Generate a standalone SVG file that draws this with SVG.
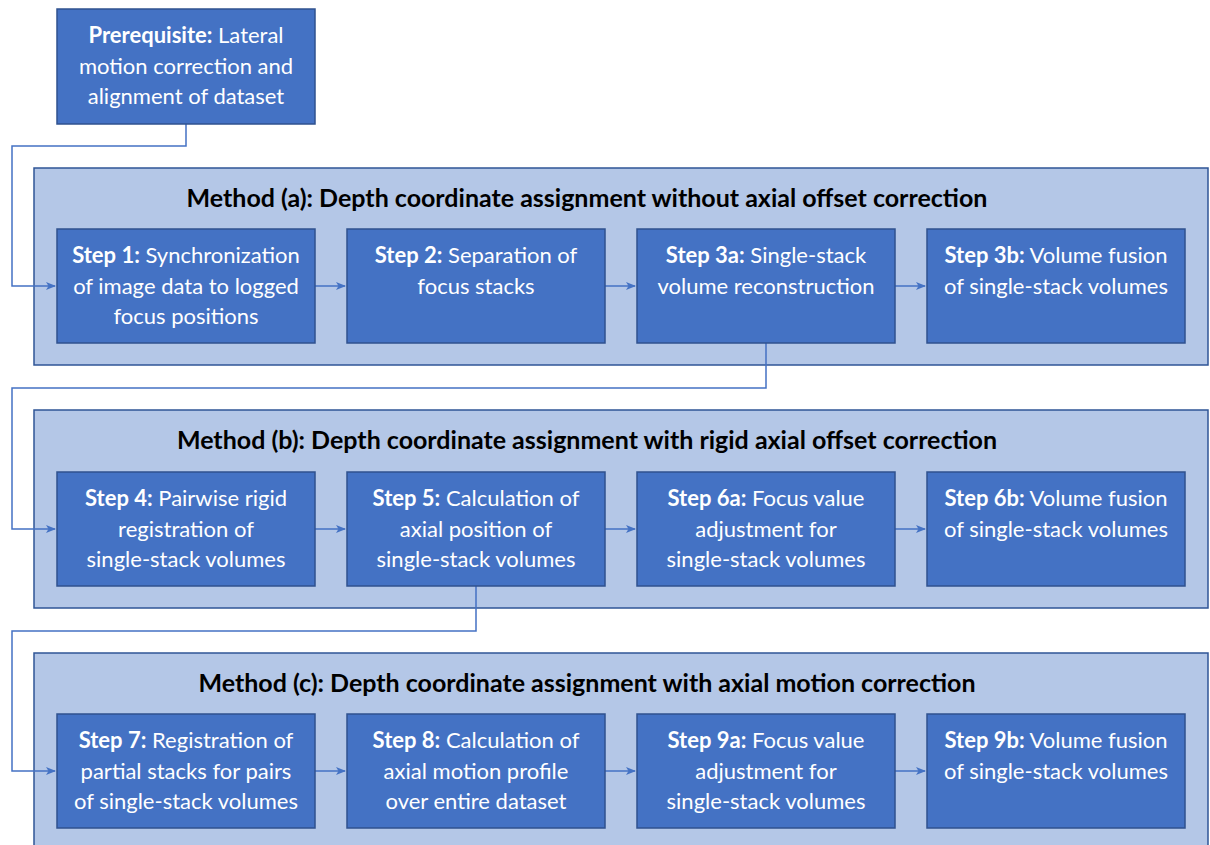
<svg xmlns="http://www.w3.org/2000/svg" width="1210" height="845" viewBox="0 0 1210 845">
<style>
.panel{fill:#B4C7E7;stroke:#2F5597;stroke-width:1.5}
.box{fill:#4472C4;stroke:#2F528F;stroke-width:1.5}
.t{font-family:Lato,"Open Sans","Liberation Sans",sans-serif;font-size:22px;fill:#fff;text-anchor:middle}
.t tspan.b{font-weight:bold}
.title{font-family:Lato,"Open Sans","Liberation Sans",sans-serif;font-size:25px;font-weight:bold;fill:#000;text-anchor:middle}
.c{fill:none;stroke:#4472C4;stroke-width:1.5}
</style>
<defs>
<marker id="ah" markerWidth="10" markerHeight="8" refX="9" refY="4" orient="auto" markerUnits="userSpaceOnUse">
<path d="M0,0 L10,4 L0,8 L2.5,4 Z" fill="#4472C4"/>
</marker>
</defs>
<rect width="1210" height="845" fill="#fff"/>
<g id="panel-a"><rect class="panel" x="34" y="168" width="1174" height="197"/>
<text class="title" x="587" y="207">Method (a): Depth coordinate assignment without axial offset correction</text></g>
<g id="panel-b"><rect class="panel" x="34" y="410" width="1174" height="198"/>
<text class="title" x="587" y="449">Method (b): Depth coordinate assignment with rigid axial offset correction</text></g>
<g id="panel-c"><rect class="panel" x="34" y="653" width="1174" height="200"/>
<text class="title" x="587" y="692">Method (c): Depth coordinate assignment with axial motion correction</text></g>
<g id="connectors">
<path class="c" d="M186,124 V146 H12 V286 H55" marker-end="url(#ah)"/>
<path class="c" d="M766,343 V388 H12 V529 H55" marker-end="url(#ah)"/>
<path class="c" d="M476,586 V631 H12 V771 H55" marker-end="url(#ah)"/>
<path class="c" d="M315,286 H345" marker-end="url(#ah)"/>
<path class="c" d="M605,286 H635" marker-end="url(#ah)"/>
<path class="c" d="M895,286 H925" marker-end="url(#ah)"/>
<path class="c" d="M315,529 H345" marker-end="url(#ah)"/>
<path class="c" d="M605,529 H635" marker-end="url(#ah)"/>
<path class="c" d="M895,529 H925" marker-end="url(#ah)"/>
<path class="c" d="M315,771 H345" marker-end="url(#ah)"/>
<path class="c" d="M605,771 H635" marker-end="url(#ah)"/>
<path class="c" d="M895,771 H925" marker-end="url(#ah)"/>
</g>
<g id="prereq"><rect class="box" x="57" y="9" width="258" height="115"/>
<text class="t" x="186" y="43"><tspan class="b">Prerequisite:</tspan> Lateral<tspan x="186" dy="30.5">motion correction and</tspan><tspan x="186" dy="30.5">alignment of dataset</tspan></text></g>
<g id="step1"><rect class="box" x="57" y="229" width="258" height="114"/>
<text class="t" x="186" y="263"><tspan class="b">Step 1:</tspan> Synchronization<tspan x="186" dy="30.5">of image data to logged</tspan><tspan x="186" dy="30.5">focus positions</tspan></text></g>
<g id="step2"><rect class="box" x="347" y="229" width="258" height="114"/>
<text class="t" x="476" y="263"><tspan class="b">Step 2:</tspan> Separation of<tspan x="476" dy="30.5">focus stacks</tspan></text></g>
<g id="step3a"><rect class="box" x="637" y="229" width="258" height="114"/>
<text class="t" x="766" y="263"><tspan class="b">Step 3a:</tspan> Single-stack<tspan x="766" dy="30.5">volume reconstruction</tspan></text></g>
<g id="step3b"><rect class="box" x="927" y="229" width="258" height="114"/>
<text class="t" x="1056" y="263"><tspan class="b">Step 3b:</tspan> Volume fusion<tspan x="1056" dy="30.5">of single-stack volumes</tspan></text></g>
<g id="step4"><rect class="box" x="57" y="472" width="258" height="114"/>
<text class="t" x="186" y="506"><tspan class="b">Step 4:</tspan> Pairwise rigid<tspan x="186" dy="30.5">registration of</tspan><tspan x="186" dy="30.5">single-stack volumes</tspan></text></g>
<g id="step5"><rect class="box" x="347" y="472" width="258" height="114"/>
<text class="t" x="476" y="506"><tspan class="b">Step 5:</tspan> Calculation of<tspan x="476" dy="30.5">axial position of</tspan><tspan x="476" dy="30.5">single-stack volumes</tspan></text></g>
<g id="step6a"><rect class="box" x="637" y="472" width="258" height="114"/>
<text class="t" x="766" y="506"><tspan class="b">Step 6a:</tspan> Focus value<tspan x="766" dy="30.5">adjustment for</tspan><tspan x="766" dy="30.5">single-stack volumes</tspan></text></g>
<g id="step6b"><rect class="box" x="927" y="472" width="258" height="114"/>
<text class="t" x="1056" y="506"><tspan class="b">Step 6b:</tspan> Volume fusion<tspan x="1056" dy="30.5">of single-stack volumes</tspan></text></g>
<g id="step7"><rect class="box" x="57" y="714" width="258" height="114"/>
<text class="t" x="186" y="748"><tspan class="b">Step 7:</tspan> Registration of<tspan x="186" dy="30.5">partial stacks for pairs</tspan><tspan x="186" dy="30.5">of single-stack volumes</tspan></text></g>
<g id="step8"><rect class="box" x="347" y="714" width="258" height="114"/>
<text class="t" x="476" y="748"><tspan class="b">Step 8:</tspan> Calculation of<tspan x="476" dy="30.5">axial motion profile</tspan><tspan x="476" dy="30.5">over entire dataset</tspan></text></g>
<g id="step9a"><rect class="box" x="637" y="714" width="258" height="114"/>
<text class="t" x="766" y="748"><tspan class="b">Step 9a:</tspan> Focus value<tspan x="766" dy="30.5">adjustment for</tspan><tspan x="766" dy="30.5">single-stack volumes</tspan></text></g>
<g id="step9b"><rect class="box" x="927" y="714" width="258" height="114"/>
<text class="t" x="1056" y="748"><tspan class="b">Step 9b:</tspan> Volume fusion<tspan x="1056" dy="30.5">of single-stack volumes</tspan></text></g>
</svg>
